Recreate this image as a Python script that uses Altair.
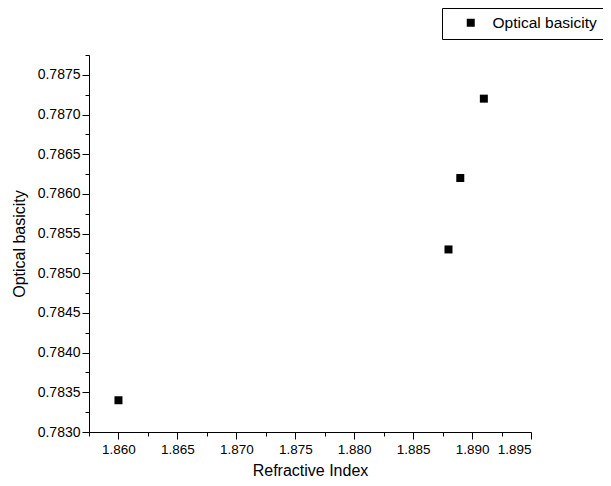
import altair as alt
import pandas as pd

# Data
refractive_index = [1.860, 1.888, 1.889, 1.891]
optical_basicity = [0.7834, 0.7853, 0.7862, 0.7872]
series_name = ["Optical basicity"] * 4

x_major = [1.860, 1.865, 1.870, 1.875, 1.880, 1.885, 1.890, 1.895]
y_major = [0.7830, 0.7835, 0.7840, 0.7845, 0.7850, 0.7855, 0.7860, 0.7865, 0.7870, 0.7875]

df = pd.DataFrame({"ri": refractive_index, "ob": optical_basicity, "s": series_name})

x_ticks = [round(1.8575 + 0.0025 * i, 4) for i in range(16)]
y_ticks = [round(0.7830 + 0.00025 * i, 5) for i in range(20)]

FONT = "Liberation Sans"
X_MAJOR_TEST = "abs(datum.value*200 - round(datum.value*200)) < 0.001"
Y_MAJOR_TEST = "abs(datum.value*2000 - round(datum.value*2000)) < 0.001"

x_axis = alt.Axis(
    values=x_ticks,
    labelExpr=X_MAJOR_TEST + " ? format(datum.value, '.3f') : ''",
    tickSize={"condition": {"test": X_MAJOR_TEST, "value": 7}, "value": 4},
    grid=False,
    domainColor="black",
    tickColor="black",
    domainWidth=1,
    tickWidth=1,
    labelFont=FONT,
    labelFontSize=13.5,
    labelColor="black",
    labelPadding=3,
    labelOverlap=False,
    title="Refractive Index",
    titleFont=FONT,
    titleFontSize=16,
    titleFontWeight="normal",
    titleColor="black",
    titlePadding=7,
)

y_axis = alt.Axis(
    values=y_ticks,
    labelExpr=Y_MAJOR_TEST + " ? format(datum.value, '.4f') : ''",
    tickSize={"condition": {"test": Y_MAJOR_TEST, "value": 7}, "value": 4},
    grid=False,
    domainColor="black",
    tickColor="black",
    domainWidth=1,
    tickWidth=1,
    labelFont=FONT,
    labelFontSize=14,
    labelColor="black",
    labelPadding=2,
    labelOverlap=False,
    title="Optical basicity",
    titleFont=FONT,
    titleFontSize=16,
    titleFontWeight="normal",
    titleColor="black",
    titlePadding=10,
)

chart = alt.Chart(df).mark_square(size=64, opacity=1).encode(
    x=alt.X("ri:Q", scale=alt.Scale(domain=[1.8575, 1.895], nice=False, zero=False), axis=x_axis),
    y=alt.Y("ob:Q", scale=alt.Scale(domain=[0.7830, 0.78775], nice=False, zero=False), axis=y_axis),
    color=alt.Color(
        "s:N",
        scale=alt.Scale(range=["black"]),
        legend=alt.Legend(
            title=None,
            orient="none",
            legendX=353,
            legendY=-47,
            strokeColor="black",
            fillColor="white",
            padding=7,
            symbolType="square",
            symbolSize=64,
            symbolOffset=14,
            labelOffset=14,
            labelFont=FONT,
            labelFontSize=15.5,
            labelColor="black",
            labelLimit=300,
            cornerRadius=0,
        ),
    ),
).properties(
    width=442,
    height=377,
    padding={"left": 81, "top": 47, "right": 72, "bottom": 46},
    autosize=alt.AutoSizeParams(type="none"),
).configure_view(stroke=None)

chart.save("out.html", embed_options={"renderer": "svg", "actions": False})
